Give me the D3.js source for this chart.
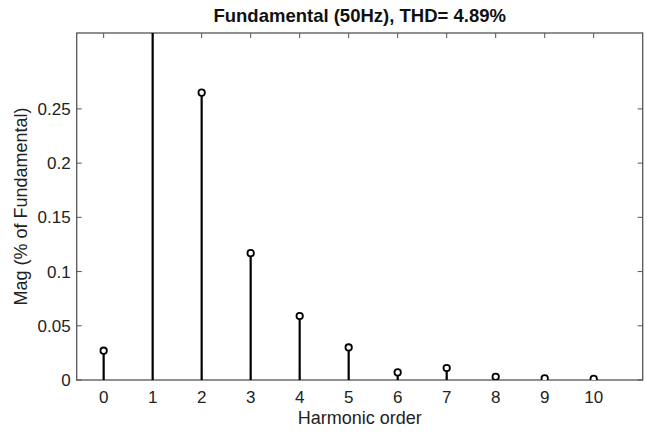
<!DOCTYPE html>
<html><head><meta charset="utf-8">
<script src="https://cdn.jsdelivr.net/npm/d3@7"></script>
<style>body{margin:0;background:#fff}</style>
</head><body>
<svg id="c" width="647" height="434"></svg>
<script>
const harmonics = [0,1,2,3,4,5,6,7,8,9,10];
const magnitudes = [0.027, 100, 0.265, 0.117, 0.059, 0.030, 0.007, 0.011, 0.003, 0.0015, 0.001];
const xTicks = [0,1,2,3,4,5,6,7,8,9,10];
const yTicks = [0,0.05,0.1,0.15,0.2,0.25];
const titleText = "Fundamental (50Hz), THD= 4.89%";
const xLabel = "Harmonic order";
const yLabel = "Mag (% of Fundamental)";

const L=76.7, R=642.7, T=33, B=380;
const svg = d3.select("#c");
const font = "'Liberation Sans', Arial, Helvetica, sans-serif";
const x = d3.scaleLinear().domain([-0.55, 11]).range([L, R]);
const y = d3.scaleLinear().domain([0, 0.32]).range([B, T]);

svg.append("defs").append("clipPath").attr("id","clip")
  .append("rect").attr("x",L).attr("y",T).attr("width",R-L).attr("height",B-T);

const axisColor = "#555";
const g = svg.append("g");
xTicks.forEach(t=>{
  g.append("line").attr("x1",x(t)).attr("x2",x(t)).attr("y1",B).attr("y2",B-5).attr("stroke",axisColor);
  g.append("line").attr("x1",x(t)).attr("x2",x(t)).attr("y1",T).attr("y2",T+5).attr("stroke",axisColor);
  g.append("text").attr("x",x(t)).attr("y",B+23).attr("text-anchor","middle")
   .attr("font-family",font).attr("font-size",17).attr("fill","#222").text(t);
});
yTicks.forEach(t=>{
  g.append("line").attr("x1",L).attr("x2",L+5).attr("y1",y(t)).attr("y2",y(t)).attr("stroke",axisColor);
  g.append("line").attr("x1",R).attr("x2",R-5).attr("y1",y(t)).attr("y2",y(t)).attr("stroke",axisColor);
  g.append("text").attr("x",L-6).attr("y",y(t)+6).attr("text-anchor","end")
   .attr("font-family",font).attr("font-size",17).attr("fill","#222").text(d3.format("")(t));
});
g.append("rect").attr("x",L).attr("y",T).attr("width",R-L).attr("height",B-T)
 .attr("fill","none").attr("stroke",axisColor).attr("stroke-width",1.3);

const stems = svg.append("g").attr("clip-path","url(#clip)");
harmonics.forEach((h,i)=>{
  stems.append("line").attr("x1",x(h)).attr("x2",x(h)).attr("y1",y(0)).attr("y2",y(magnitudes[i]))
    .attr("stroke","#000").attr("stroke-width",2.2);
  stems.append("circle").attr("cx",x(h)).attr("cy",y(magnitudes[i])).attr("r",3.2)
    .attr("fill","#fff").attr("stroke","#000").attr("stroke-width",1.8);
});

svg.append("text").attr("x",(L+R)/2).attr("y",22).attr("text-anchor","middle")
  .attr("font-family",font).attr("font-size",18.5).attr("font-weight","bold").attr("fill","#111").text(titleText);
svg.append("text").attr("x",(L+R)/2).attr("y",424).attr("text-anchor","middle")
  .attr("font-family",font).attr("font-size",18).attr("fill","#222").text(xLabel);
svg.append("text").attr("transform",`translate(27,${(T+B)/2}) rotate(-90)`).attr("text-anchor","middle")
  .attr("font-family",font).attr("font-size",18).attr("fill","#222").text(yLabel);
</script>
</body></html>
